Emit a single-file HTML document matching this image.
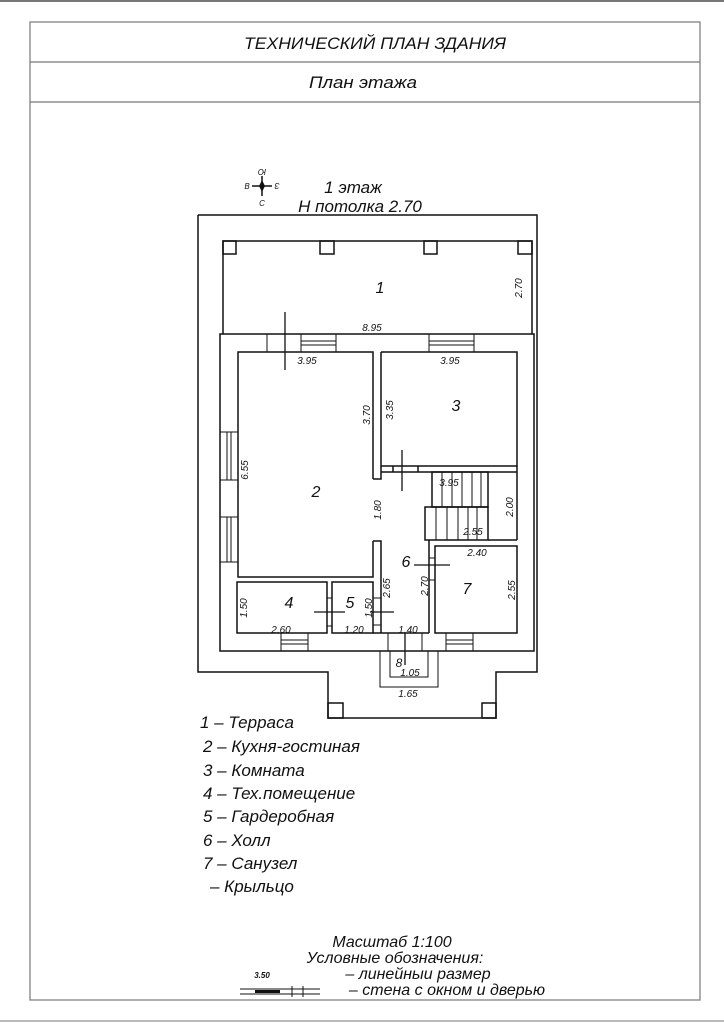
<!DOCTYPE html>
<html><head><meta charset="utf-8"><style>
html,body{margin:0;padding:0;background:#fff;}
svg{display:block;}
text{font-family:"Liberation Sans","DejaVu Sans",sans-serif;font-style:italic;fill:#111;}
</style></head><body>
<svg width="724" height="1024" viewBox="0 0 724 1024" xmlns="http://www.w3.org/2000/svg">
<line x1="0" y1="1" x2="724" y2="1" stroke="#777" stroke-width="2"/>
<line x1="0" y1="1021" x2="724" y2="1021" stroke="#bbb" stroke-width="2"/>
<g fill="none" stroke="#777" stroke-width="1.2">
<rect x="30" y="22" width="670" height="978"/>
<line x1="30" y1="62" x2="700" y2="62"/>
<line x1="30" y1="102" x2="700" y2="102"/>
</g>
<text x="375" y="49" font-size="17" text-anchor="middle" textLength="262" lengthAdjust="spacingAndGlyphs">ТЕХНИЧЕСКИЙ ПЛАН ЗДАНИЯ</text>
<text x="363" y="88" font-size="17" text-anchor="middle" textLength="108" lengthAdjust="spacingAndGlyphs">План этажа</text>

<!-- compass -->
<g stroke="#111" stroke-width="1.5">
<line x1="252" y1="186" x2="272" y2="186"/><line x1="262" y1="176" x2="262" y2="196"/>
</g>
<polygon points="262,180 265,186 262,192 259,186" fill="#111"/>
<text x="262" y="175" font-size="8" text-anchor="middle" transform="rotate(180 262 172)">Ю</text>
<text x="247" y="189" font-size="8" text-anchor="middle">В</text>
<text x="277" y="189" font-size="8" text-anchor="middle" transform="rotate(180 277 186)">З</text>
<text x="262" y="206" font-size="8" text-anchor="middle">С</text>

<text x="353" y="193" font-size="17" text-anchor="middle">1 этаж</text>
<text x="360" y="212" font-size="17" text-anchor="middle">Н потолка 2.70</text>

<g fill="none" stroke="#111" stroke-width="1.5">
<!-- outer outline -->
<polyline points="198,215 537,215 537,672 496,672 496,718 328,718 328,672 198,672 198,215"/>
<rect x="328" y="703" width="15" height="15"/><rect x="482" y="703" width="14" height="15"/>
<!-- terrace -->
<polyline points="223,334 223,241 532,241 532,334"/>
<rect x="223" y="241" width="13" height="13"/><rect x="320" y="241" width="14" height="13"/>
<rect x="424" y="241" width="13" height="13"/><rect x="518" y="241" width="14" height="13"/>
<!-- building -->
<rect x="220" y="334" width="314" height="317"/>
<!-- room 2 -->
<polyline points="373,479 373,352 238,352 238,577 373,577 373,541"/>
<polyline points="373,479 381,479 381,352"/>
<polyline points="373,541 381,541 381,582"/>
<!-- room 3 -->
<polyline points="381,352 517,352 517,466 381,466"/>
<line x1="381" y1="472" x2="517" y2="472"/>
<line x1="517" y1="466" x2="517" y2="540"/>
<line x1="393" y1="466" x2="393" y2="472"/><line x1="418" y1="466" x2="418" y2="472"/>
<!-- stairs -->
<rect x="432" y="472" width="56" height="35"/>
<rect x="425" y="507" width="63" height="33"/>
<line x1="488" y1="540" x2="517" y2="540"/>
<line x1="429" y1="540" x2="429" y2="633"/>
<!-- room 7 -->
<rect x="435" y="546" width="82" height="87"/>
<!-- room 4,5 -->
<rect x="237" y="582" width="90" height="51"/>
<rect x="332" y="582" width="41" height="51"/>
<line x1="381" y1="582" x2="381" y2="633"/>
<line x1="373" y1="633" x2="429" y2="633"/>
</g>
<g fill="none" stroke="#111" stroke-width="1">
<!-- stair treads -->
<line x1="442" y1="472" x2="442" y2="507"/><line x1="452" y1="472" x2="452" y2="507"/><line x1="462" y1="472" x2="462" y2="507"/><line x1="472" y1="472" x2="472" y2="507"/><line x1="481" y1="472" x2="481" y2="507"/>
<line x1="436" y1="507" x2="436" y2="540"/><line x1="447" y1="507" x2="447" y2="540"/><line x1="458" y1="507" x2="458" y2="540"/><line x1="468" y1="507" x2="468" y2="540"/><line x1="477" y1="507" x2="477" y2="540"/>
<!-- top windows -->
<line x1="267" y1="334" x2="267" y2="352"/><line x1="301" y1="334" x2="301" y2="352"/><line x1="336" y1="334" x2="336" y2="352"/>
<line x1="301" y1="341" x2="336" y2="341"/><line x1="301" y1="345" x2="336" y2="345"/>
<line x1="429" y1="334" x2="429" y2="352"/><line x1="474" y1="334" x2="474" y2="352"/>
<line x1="429" y1="341" x2="474" y2="341"/><line x1="429" y1="345" x2="474" y2="345"/>
<!-- left windows -->
<line x1="220" y1="432" x2="238" y2="432"/><line x1="220" y1="480" x2="238" y2="480"/>
<line x1="227" y1="432" x2="227" y2="480"/><line x1="231" y1="432" x2="231" y2="480"/>
<line x1="220" y1="517" x2="238" y2="517"/><line x1="220" y1="562" x2="238" y2="562"/>
<line x1="227" y1="517" x2="227" y2="562"/><line x1="231" y1="517" x2="231" y2="562"/>
<!-- bottom windows -->
<line x1="281" y1="633" x2="281" y2="651"/><line x1="308" y1="633" x2="308" y2="651"/>
<line x1="281" y1="640" x2="308" y2="640"/><line x1="281" y1="644" x2="308" y2="644"/>
<line x1="446" y1="633" x2="446" y2="651"/><line x1="473" y1="633" x2="473" y2="651"/>
<line x1="446" y1="640" x2="473" y2="640"/><line x1="446" y1="644" x2="473" y2="644"/>
<line x1="388" y1="633" x2="388" y2="651"/><line x1="422" y1="633" x2="422" y2="651"/>
<!-- doors -->
<line x1="327" y1="598" x2="332" y2="598"/><line x1="327" y1="626" x2="332" y2="626"/>
<line x1="373" y1="598" x2="381" y2="598"/><line x1="373" y1="625" x2="381" y2="625"/>
<line x1="429" y1="558" x2="435" y2="558"/><line x1="429" y1="580" x2="435" y2="580"/>
<!-- porch -->
<polyline points="380,651 380,687 438,687 438,651"/>
<polyline points="390,651 390,677 428,677 428,651"/>
<!-- section marks -->
<line x1="285" y1="312" x2="285" y2="370" stroke-width="1.3"/>
<line x1="402" y1="450" x2="402" y2="491" stroke-width="1.3"/>
<line x1="414" y1="565" x2="450" y2="565" stroke-width="1.3"/>
<line x1="314" y1="612" x2="345" y2="612" stroke-width="1.3"/>
<line x1="370" y1="612" x2="394" y2="612" stroke-width="1.3"/>
<line x1="405" y1="633" x2="405" y2="665" stroke-width="1.3"/>
</g>

<g font-size="16" text-anchor="middle">
<text x="380" y="293">1</text><text x="316" y="497">2</text><text x="456" y="411">3</text>
<text x="289" y="608">4</text><text x="350" y="608">5</text><text x="406" y="567">6</text><text x="467" y="594">7</text>
<text x="399" y="667" font-size="12">8</text>
</g>
<g font-size="10" text-anchor="middle">
<text x="372" y="331">8.95</text>
<text x="307" y="364">3.95</text><text x="450" y="364">3.95</text>
<text x="449" y="486">3.95</text><text x="473" y="535">2.55</text><text x="477" y="556">2.40</text>
<text x="281" y="633">2.60</text><text x="354" y="633">1.20</text><text x="408" y="633">1.40</text>
<text x="410" y="676">1.05</text><text x="408" y="697">1.65</text>
<text transform="translate(522,288) rotate(-90)">2.70</text>
<text transform="translate(370,415) rotate(-90)">3.70</text>
<text transform="translate(393,410) rotate(-90)">3.35</text>
<text transform="translate(248,470) rotate(-90)">6.55</text>
<text transform="translate(381,510) rotate(-90)">1.80</text>
<text transform="translate(513,507) rotate(-90)">2.00</text>
<text transform="translate(390,588) rotate(-90)">2.65</text>
<text transform="translate(428,586) rotate(-90)">2.70</text>
<text transform="translate(515,590) rotate(-90)">2.55</text>
<text transform="translate(247,608) rotate(-90)">1.50</text>
<text transform="translate(372,608) rotate(-90)">1.50</text>
</g>

<g font-size="17">
<text x="200" y="728">1 – Терраса</text>
<text x="203" y="752">2 – Кухня-гостиная</text>
<text x="203" y="776">3 – Комната</text>
<text x="203" y="799">4 – Тех.помещение</text>
<text x="203" y="822">5 – Гардеробная</text>
<text x="203" y="846">6 – Холл</text>
<text x="203" y="869">7 – Санузел</text>
<text x="210" y="892">  – Крыльцо</text>
</g>

<g font-size="16" text-anchor="middle">
<text x="392" y="947">Масштаб 1:100</text>
<text x="395" y="963">Условные обозначения:</text>
<text x="418" y="979">– линейныи размер</text>
<text x="447" y="995">– стена с окном и дверью</text>
</g>
<text x="262" y="978" font-size="8" font-weight="bold" text-anchor="middle">3.50</text>
<g stroke="#111" stroke-width="1" fill="none">
<line x1="240" y1="989" x2="320" y2="989"/><line x1="240" y1="994" x2="320" y2="994"/>
<line x1="255" y1="991.5" x2="280" y2="991.5" stroke-width="3"/>
<line x1="292" y1="986" x2="292" y2="997"/><line x1="303" y1="986" x2="303" y2="997"/>
</g>
</svg>
</body></html>
